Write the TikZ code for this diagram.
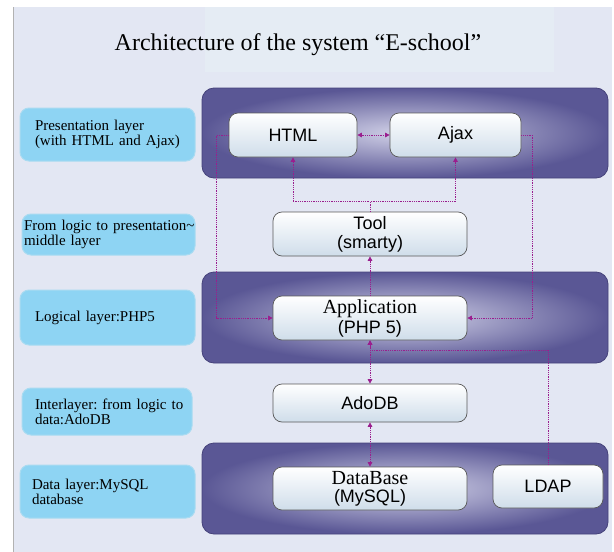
\documentclass[tikz,border=0pt]{standalone}
\usepackage{fontspec}
\setmainfont{Liberation Serif}
\setsansfont{Liberation Sans}
\usepackage{tikz}
\usetikzlibrary{arrows.meta}
\usetikzlibrary{positioning}
\frenchspacing

\definecolor{bgcol}{HTML}{E3E7F3}
\definecolor{titlecol}{HTML}{E5ECF4}
\definecolor{labelblue}{HTML}{8ED4F3}
\definecolor{labeledge}{HTML}{A9DBF1}
\definecolor{panelout}{HTML}{5A5795}
\definecolor{panelin}{HTML}{D2D2E8}
\definecolor{panelline}{HTML}{45427A}
\definecolor{boxlow}{HTML}{CFDDEA}
\definecolor{linkcol}{HTML}{9A1E8E}

\tikzset{
  layerlabel/.style={fill=labelblue, draw=labeledge, line width=1pt, rounded corners=9pt,
    minimum width=175pt, text width=145pt, inner xsep=15pt, inner ysep=0pt, align=left,
    font=\rmfamily\fontsize{15}{15}\selectfont},
  modbox/.style={draw=black!65, line width=0.7pt, rounded corners=9pt,
    top color=white, bottom color=boxlow, align=center, inner sep=0pt,
    font=\sffamily\fontsize{18}{19}\selectfont},
  panel/.style={rounded corners=12pt, inner color=panelin, outer color=panelout},
  link/.style={draw=linkcol, densely dotted, line width=0.8pt,
    {Triangle[length=4.5pt,width=4.5pt]}-{Triangle[length=4.5pt,width=4.5pt]}},
  tolink/.style={draw=linkcol, densely dotted, line width=0.8pt,
    -{Triangle[length=4.5pt,width=4.5pt]}}
}

\begin{document}
\begin{tikzpicture}[x=1pt,y=-1pt]
  \useasboundingbox (0,0) rectangle (614,552);
  \fill[white] (0,0) rectangle (614,552);
  \fill[bgcol] (13,7) rectangle (612,552);
  \draw[black!30, line width=1pt] (13.5,7) -- (13.5,552);
  \fill[titlecol] (205,7) rectangle (554,72);

  \node (title) at (298,45) {\fontsize{24}{24}\selectfont Architecture of the system “E-school”};

  % layers
  \shade[panel] (202,88) rectangle (608,178);
  \draw[panelline, line width=0.8pt, rounded corners=12pt] (202,88) rectangle (608,178);
  \shade[panel] (202,272) rectangle (608,363);
  \draw[panelline, line width=0.8pt, rounded corners=12pt] (202,272) rectangle (608,363);
  \shade[panel] (202,443) rectangle (608,534);
  \draw[panelline, line width=0.8pt, rounded corners=12pt] (202,443) rectangle (608,534);

  % labels on the left
  \node[layerlabel, minimum height=53pt] (lpres) at (107.5,134.5) {Presentation layer\\(with HTML and Ajax)};
  \node[layerlabel, minimum height=41pt, minimum width=173pt, inner xsep=2pt, text width=169pt] (lmid) at (108.5,234.5)
    {\mbox{From logic to presentation\textasciitilde}\\middle layer};
  \node[layerlabel, minimum height=55pt] (llogic) at (107.5,317.5) {Logical layer:PHP5};
  \node[layerlabel, minimum width=170pt, minimum height=47pt, inner xsep=13pt, text width=144pt] (linter) at (107,411.5)
    {\mbox{Interlayer: from logic to}\\data:AdoDB};
  \node[layerlabel, minimum height=53pt, inner xsep=12pt, text width=151pt] (ldata) at (107.5,491.5) {Data layer:MySQL\\database};

  % modules
  \node[modbox, minimum width=128pt, minimum height=44pt] (html) at (293,135) {HTML};
  \node[modbox, minimum width=131pt, minimum height=44pt] (ajax) at (455.5,135) {Ajax};
  \node[modbox, minimum width=194pt, minimum height=44pt] (tool) at (370,234) {Tool\\(smarty)};
  \node[modbox, minimum width=194pt, minimum height=44pt] (app) at (370,318)
    {{\rmfamily\fontsize{20}{20}\selectfont Application}\\[1pt](PHP 5)};
  \node[modbox, minimum width=194pt, minimum height=38pt] (ado) at (370,403) {AdoDB};
  \node[modbox, minimum width=194pt, minimum height=43pt] (db) at (370,488.5)
    {{\rmfamily\fontsize{20}{20}\selectfont DataBase}\\[-1pt](MySQL)};
  \node[modbox, minimum width=110pt, minimum height=43pt] (ldap) at (548,486.5) {LDAP};

  % connectors
  \coordinate (appjoin) at (370,350);
  \draw[link] (html) -- (ajax);
  \draw[tolink] (tool.north) -- ++(0,-10) -| (html.south);
  \draw[tolink] (tool.north) -- ++(0,-10) -| (ajax.south);
  \draw[tolink] (app) -- (tool);
  \draw[tolink] (html.west) -- ++(-12,0) |- (app.west);
  \draw[tolink] (ajax.east) -- ++(11,0) |- (app.east);
  \draw[link] (app) -- (ado);
  \draw[tolink] (ldap.north) |- (appjoin) -- (app.south);
  \draw[link] (ado) -- (db);
\end{tikzpicture}
\end{document}
